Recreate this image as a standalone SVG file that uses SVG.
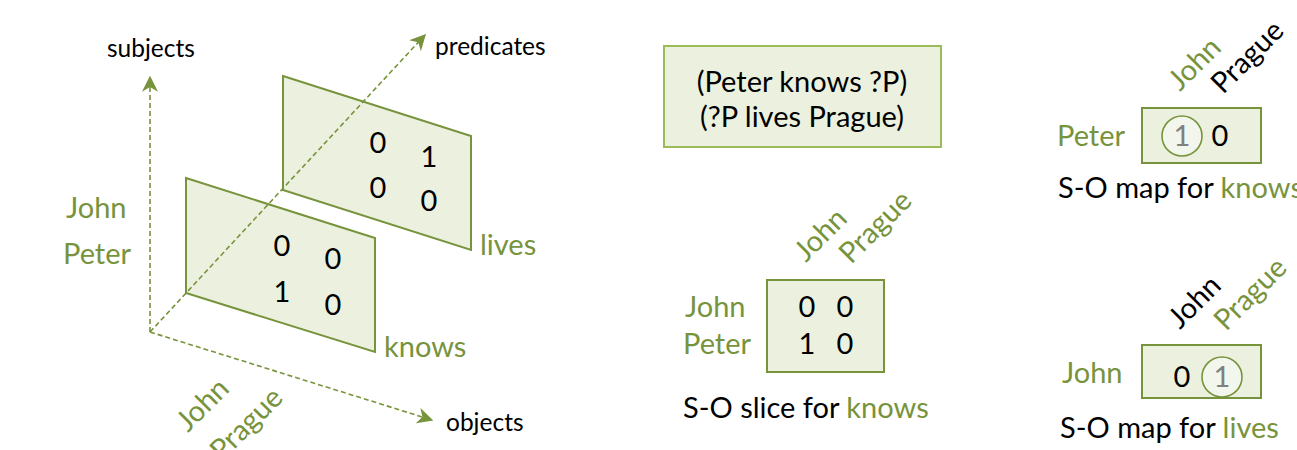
<svg xmlns="http://www.w3.org/2000/svg" width="1297" height="450" viewBox="0 0 1297 450">
  <defs>
    <style>
      text { font-family: Lato, "Open Sans", "Liberation Sans", sans-serif; fill: #000; }
      .g { fill: #77933C; }
      .k { fill: #000; }
      .lbl { font-size: 29px; }
      .ax { font-size: 24.5px; }
      .num { font-size: 29px; text-anchor: middle; }
      .plane { fill: #EBF1DE; stroke: #77933C; stroke-width: 2; }
      .cell { fill: #EBF1DE; stroke: #77933C; stroke-width: 2; }
      .query { fill: #EBF1DE; stroke: #9BBB59; stroke-width: 2; }
      .axis { fill: none; stroke: #77933C; stroke-width: 1.6; stroke-dasharray: 5 3; }
      .hit { fill: #F3F6EC; stroke: #77933C; stroke-width: 1.6; }
      .dim { fill: #808080; }
    </style>
    <marker id="arrow" viewBox="0 0 12 12" refX="11" refY="6" markerWidth="16" markerHeight="16" markerUnits="userSpaceOnUse" orient="auto">
      <path d="M0,0 L12,6 L0,12 L3.5,6 z" fill="#77933C"/>
    </marker>
  </defs>

  <!-- 3D cube view: predicate planes -->
  <g id="plane-lives">
    <polygon class="plane" points="283,76 471,136 471,250 283,190"/>
    <text class="num" x="378" y="153">0</text>
    <text class="num" x="429" y="167">1</text>
    <text class="num" x="378" y="198">0</text>
    <text class="num" x="429" y="211">0</text>
    <text class="lbl g" x="480" y="255">lives</text>
  </g>
  <g id="plane-knows">
    <polygon class="plane" points="186,178 375,238 375,352 186,293"/>
    <text class="num" x="282" y="256">0</text>
    <text class="num" x="333" y="269">0</text>
    <text class="num" x="282" y="302">1</text>
    <text class="num" x="333" y="315">0</text>
    <text class="lbl g" x="384" y="357">knows</text>
  </g>

  <!-- axes -->
  <g id="connectors">
    <line class="axis" x1="150" y1="332" x2="150" y2="77" marker-end="url(#arrow)"/>
    <line class="axis" x1="150" y1="332" x2="425" y2="35" marker-end="url(#arrow)"/>
    <line class="axis" x1="150" y1="332" x2="432" y2="420" marker-end="url(#arrow)"/>
  </g>

  <g id="axis-labels">
    <text class="ax" x="107" y="57">subjects</text>
    <text class="ax" x="435" y="55">predicates</text>
    <text class="ax" x="446" y="431">objects</text>
    <text class="lbl g" x="66" y="218">John</text>
    <text class="lbl g" x="63" y="264">Peter</text>
    <text class="lbl g" transform="translate(188,433) rotate(-45)">John</text>
    <text class="lbl g" transform="translate(222,462) rotate(-45)">Prague</text>
  </g>

  <!-- query -->
  <g id="query">
    <rect class="query" x="664" y="46" width="277" height="101"/>
    <text class="lbl" x="802" y="92" text-anchor="middle">(Peter knows ?P)</text>
    <text class="lbl" x="802" y="127" text-anchor="middle">(?P lives Prague)</text>
  </g>

  <!-- S-O slice for knows -->
  <g id="slice-knows">
    <rect class="cell" x="767" y="280" width="117" height="92"/>
    <text class="lbl g" transform="translate(806,263) rotate(-45)">John</text>
    <text class="lbl g" transform="translate(851,265) rotate(-45)">Prague</text>
    <text class="lbl g" x="685" y="317">John</text>
    <text class="lbl g" x="683" y="354">Peter</text>
    <text class="num" x="807" y="317">0</text>
    <text class="num" x="845" y="317">0</text>
    <text class="num" x="807" y="354">1</text>
    <text class="num" x="845" y="354">0</text>
    <text class="lbl" x="683" y="418">S-O slice for <tspan class="g">knows</tspan></text>
  </g>

  <!-- S-O map for knows -->
  <g id="map-knows">
    <rect class="cell" x="1142" y="108" width="119" height="55"/>
    <text class="lbl g" transform="translate(1180,92) rotate(-45)">John</text>
    <text class="lbl k" transform="translate(1223,95) rotate(-45)">Prague</text>
    <text class="lbl g" x="1057" y="146">Peter</text>
    <circle class="hit" cx="1182" cy="136" r="20"/>
    <text class="num dim" x="1182" y="146">1</text>
    <text class="num" x="1220" y="146">0</text>
    <text class="lbl" x="1058" y="198">S-O map for <tspan class="g">knows</tspan></text>
  </g>

  <!-- S-O map for lives -->
  <g id="map-lives">
    <rect class="cell" x="1142" y="345" width="119" height="53"/>
    <text class="lbl k" transform="translate(1180,330) rotate(-45)">John</text>
    <text class="lbl g" transform="translate(1226,332) rotate(-45)">Prague</text>
    <text class="lbl g" x="1062" y="383">John</text>
    <text class="num" x="1182" y="387">0</text>
    <circle class="hit" cx="1222" cy="377" r="20"/>
    <text class="num dim" x="1222" y="387">1</text>
    <text class="lbl" x="1060" y="438">S-O map for <tspan class="g">lives</tspan></text>
  </g>
</svg>
